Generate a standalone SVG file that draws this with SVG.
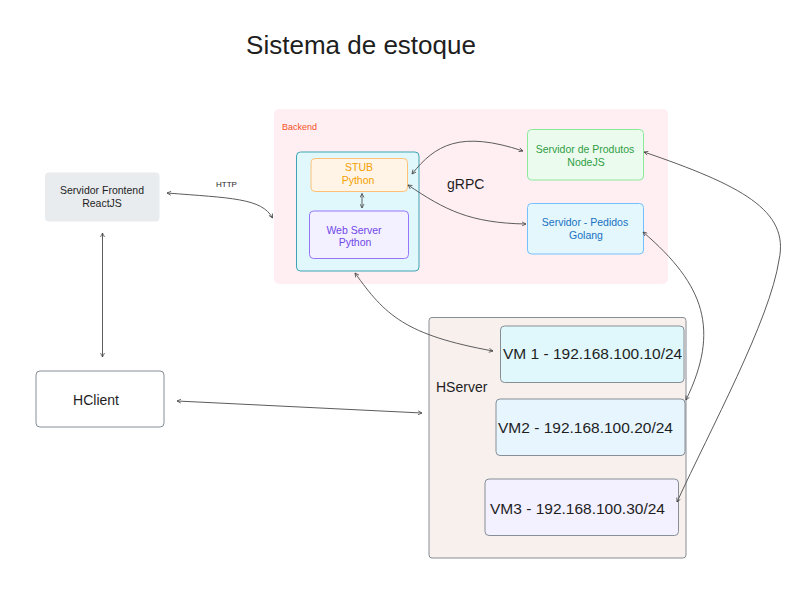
<svg xmlns="http://www.w3.org/2000/svg" width="807" height="591" viewBox="0 0 807 591">
<defs>
<style>
text{font-family:"Liberation Sans",Arial,sans-serif;}
.c{fill:none;stroke:#5c5c5c;stroke-width:1;marker-start:url(#ah);marker-end:url(#ah);}
.sm{font-size:10.5px;text-anchor:middle;}
.vm{font-size:15.5px;fill:#1e1e1e;}
</style>
<marker id="ah" viewBox="0 0 10 10" refX="9" refY="5" markerWidth="5" markerHeight="5" orient="auto-start-reverse" markerUnits="userSpaceOnUse">
<path d="M1,1 L9,5 L1,9" fill="none" stroke="#444" stroke-width="1.5"/>
</marker>
</defs>
<rect width="807" height="591" fill="#ffffff"/>
<text x="361" y="54" font-size="26" text-anchor="middle" fill="#1e1e1e">Sistema de estoque</text>

<g id="backend">
<rect x="274" y="109" width="394" height="175" rx="5" fill="#ffeff3"/>
<text x="282" y="130" font-size="9" fill="#f4511e">Backend</text>
<text x="447" y="189" font-size="14" fill="#1e1e1e">gRPC</text>
</g>
<g id="python-container">
<rect x="296.5" y="152" width="122.5" height="119" rx="4" fill="#e0f8fb" stroke="#3fa5b5" stroke-width="1"/>
</g>
<g id="stub">
<rect x="311" y="158.5" width="96.5" height="33" rx="4" fill="#fff4e6" stroke="#ffc078" stroke-width="1"/>
<text class="sm" x="359" y="171" fill="#f59f00">STUB</text>
<text class="sm" x="358" y="184" fill="#f59f00">Python</text>
</g>
<g id="webserver">
<rect x="309.5" y="211" width="99" height="47.5" rx="4" fill="#f3f0ff" stroke="#9775fa" stroke-width="1"/>
<text class="sm" x="354" y="234" fill="#7048e8">Web Server</text>
<text class="sm" x="355" y="246" fill="#7048e8">Python</text>
</g>
<g id="produtos">
<rect x="527.5" y="129.5" width="116" height="50.5" rx="4" fill="#ebfbee" stroke="#8ce99a" stroke-width="1"/>
<text class="sm" x="585" y="153" fill="#2f9e44">Servidor de Produtos</text>
<text class="sm" x="586" y="166" fill="#2f9e44">NodeJS</text>
</g>
<g id="pedidos">
<rect x="527.5" y="203.5" width="116" height="50.5" rx="4" fill="#e3f7fc" stroke="#74c0fc" stroke-width="1"/>
<text class="sm" x="585" y="226" fill="#1971c2">Servidor - Pedidos</text>
<text class="sm" x="586" y="239" fill="#1971c2">Golang</text>
</g>
<g id="frontend">
<rect x="45" y="172.5" width="114.5" height="49" rx="4" fill="#e9ecef"/>
<text class="sm" x="102" y="194" fill="#1e1e1e">Servidor Frontend</text>
<text class="sm" x="102" y="207" fill="#1e1e1e">ReactJS</text>
</g>
<g id="hclient">
<rect x="36" y="371" width="128" height="56" rx="4" fill="#ffffff" stroke="#868e96" stroke-width="1"/>
<text x="96" y="405" font-size="14" text-anchor="middle" fill="#1e1e1e">HClient</text>
</g>
<g id="hserver">
<rect x="429" y="317.5" width="257" height="240.5" rx="3" fill="#f8f0ed" stroke="#868e96" stroke-width="1"/>
<text x="436" y="392" font-size="14" fill="#1e1e1e">HServer</text>
</g>
<g id="vm1">
<rect x="500.5" y="326" width="183.5" height="56.5" rx="4" fill="#e0f8fb" stroke="#868e96" stroke-width="1"/>
<text class="vm" x="503" y="359">VM 1 - 192.168.100.10/24</text>
</g>
<g id="vm2">
<rect x="496" y="399" width="189" height="56.5" rx="4" fill="#e7f5ff" stroke="#868e96" stroke-width="1"/>
<text class="vm" x="498" y="433">VM2 - 192.168.100.20/24</text>
</g>
<g id="vm3">
<rect x="485" y="479" width="193.5" height="56.5" rx="4" fill="#f3f0ff" stroke="#868e96" stroke-width="1"/>
<text class="vm" x="490" y="514">VM3 - 192.168.100.30/24</text>
</g>

<g id="connectors">
<path class="c" d="M167,193 C 230,198 262,198 272.5,218"/>
<text x="216" y="187" font-size="8" fill="#1e1e1e">HTTP</text>
<path class="c" d="M102.5,233 L102.5,357"/>
<path class="c" d="M177,401 L422,413"/>
<path class="c" d="M362,193.5 L362,208"/>
<path class="c" d="M355,273 C 385,315 405,335 493,351"/>
<path class="c" d="M412,174 C 435,145 460,130 523,151"/>
<path class="c" d="M408,185 C 445,210 470,223 526,224"/>
<path class="c" d="M643,232 C 705,285 720,330 686,400"/>
<path class="c" d="M644,152 C 740,185 790,210 779,260 C 770,320 710,430 677,502"/>
</g>
</svg>
